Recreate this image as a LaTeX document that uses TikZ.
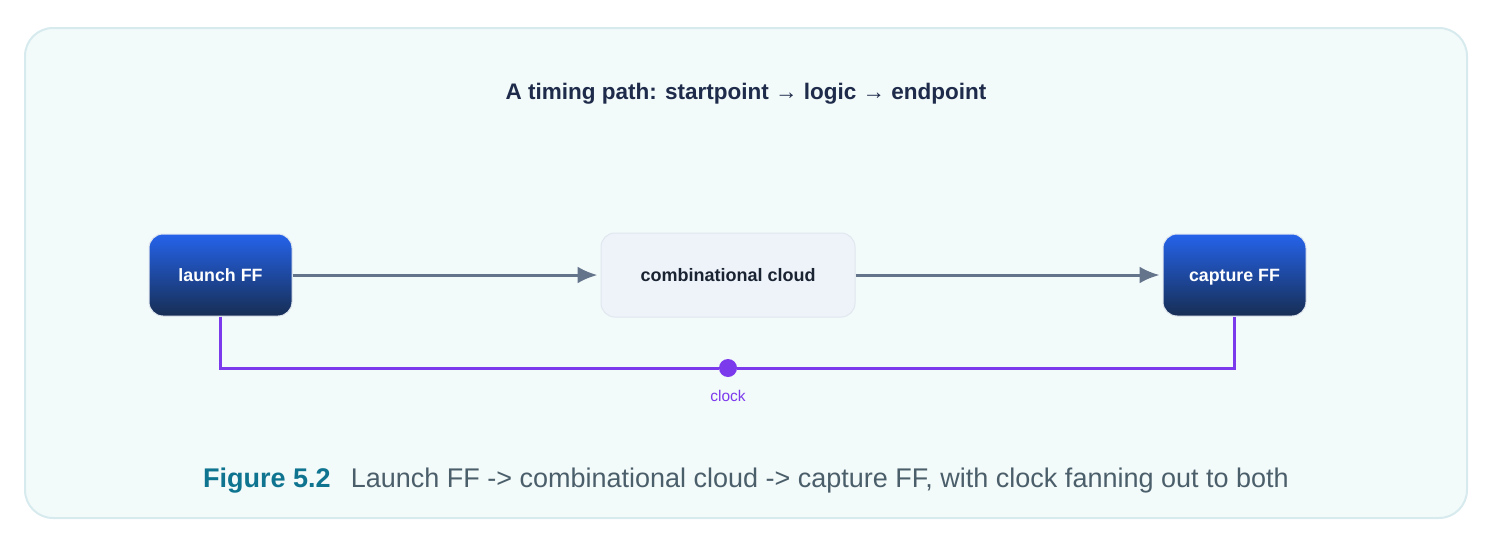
\documentclass[tikz,border=0pt]{standalone}
\usepackage{fontspec}
\setmainfont{Liberation Sans}
\usepackage{xcolor}
\usetikzlibrary{arrows.meta}
\usetikzlibrary{positioning}

\definecolor{framefill}{HTML}{F3FAFA}
\definecolor{frameline}{HTML}{D7EBEE}
\definecolor{titlecol}{HTML}{1E2B4A}
\definecolor{fftop}{HTML}{2563EB}
\definecolor{ffbot}{HTML}{172E54}
\definecolor{cloudfill}{HTML}{EEF3FA}
\definecolor{cloudline}{HTML}{E1E7EF}
\definecolor{cloudtext}{HTML}{1A2332}
\definecolor{wirecol}{HTML}{64748B}
\definecolor{clkcol}{HTML}{7C3AED}
\definecolor{figcol}{HTML}{0E7490}
\definecolor{capcol}{HTML}{4B5F6B}

\begin{document}
\begin{tikzpicture}[x=1pt,y=-1pt]
	%\draw[help lines] (0,0) grid[step=100] (1494,546);
	
	\tikzstyle{ffnode} = [rectangle,rounded corners=14pt,draw=cloudline,line width=1pt,top color=fftop,bottom color=ffbot,text=white,font=\fontsize{17.8}{20}\selectfont\bfseries,text height=15pt,text depth=2pt,minimum width=143pt,minimum height=82pt]
	\tikzstyle{cnode} = [rectangle,rounded corners=14pt,draw=cloudline,line width=1pt,fill=cloudfill,text=cloudtext,font=\fontsize{18}{20}\selectfont\bfseries,text height=15pt,text depth=2pt,minimum width=254pt,minimum height=84pt]
	\tikzstyle{dedge} = [-{Latex[length=20pt,width=17pt]},draw=wirecol,line width=3pt,shorten >=3pt]
	\tikzstyle{cedge} = [draw=clkcol,line width=3pt]
	
	\useasboundingbox (0,0) rectangle (1494,546);
	\draw[fill=framefill,draw=frameline,line width=2pt,rounded corners=28pt] (25,28) rectangle (1467,518);
	
	\node[text=titlecol,font=\fontsize{22.5}{26}\selectfont\bfseries] (title) at (746,94) {A timing path: startpoint → logic → endpoint};
	
	\node[ffnode] (launch) at (220.5,275) {launch FF};
	\node[cnode] (cloud) at (728,275) {combinational cloud};
	\node[ffnode] (capture) at (1234.5,275) {capture FF};
	
	\node[circle,fill=clkcol,inner sep=0pt,minimum size=18pt] (clk) at (728,368) {};
	\node[text=clkcol,font=\fontsize{15.5}{18}\selectfont] (clklabel) at (728,396) {clock};
	
	\draw (launch) edge [dedge] (cloud);
	\draw (cloud) edge [dedge] (capture);
	\draw[cedge] (launch.south) |- (clk) -| (capture.south);
	
	\node[font=\fontsize{27}{30}\selectfont] (caption) at (746,481) {{\color{figcol}\bfseries Figure 5.2}\hspace{20pt}{\color{capcol}Launch FF -> combinational cloud -> capture FF, with clock fanning out to both}};

\end{tikzpicture}
\end{document}
